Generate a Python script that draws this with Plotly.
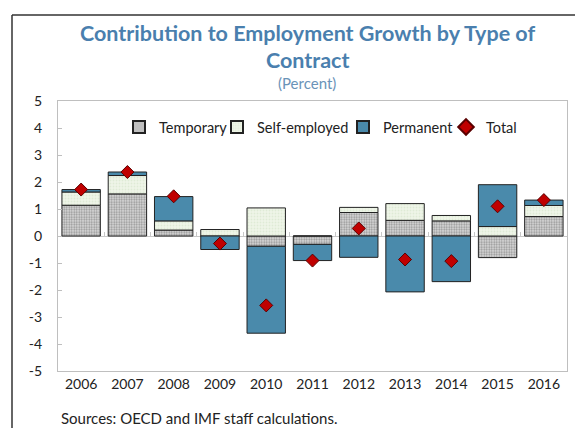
import plotly.graph_objects as go

years = ["2006", "2007", "2008", "2009", "2010", "2011", "2012", "2013", "2014", "2015", "2016"]
temporary = [1.14, 1.56, 0.22, 0.0, -0.38, -0.31, 0.87, 0.58, 0.56, -0.80, 0.72]
self_employed = [0.49, 0.68, 0.34, 0.24, 1.04, 0.0, 0.19, 0.62, 0.20, 0.35, 0.41]
permanent = [0.09, 0.13, 0.90, -0.50, -3.22, -0.60, -0.79, -2.07, -1.69, 1.55, 0.20]
total = [1.72, 2.37, 1.47, -0.28, -2.57, -0.91, 0.28, -0.87, -0.93, 1.10, 1.33]
yticks = [5, 4, 3, 2, 1, 0, -1, -2, -3, -4, -5]

W, H = 575, 428
ML, MR, MT, MB = 58, 8, 101, 57
PW, PH = W - ML - MR, H - MT - MB

def px(x):
    return (x - ML) / PW

def py(y):
    return (H - MB - y) / PH

FONT = "Lato"
fig = go.Figure()
fig.add_trace(go.Bar(
    x=years, y=temporary, name="Temporary", legendwidth=53,
    marker=dict(color="#c8c8c8", line=dict(color="#222222", width=1),
                pattern=dict(shape=".", fgcolor="#4a4a4a", bgcolor="#dcdcdc", size=2.5, solidity=0.45)),
))
fig.add_trace(go.Bar(
    x=years, y=self_employed, name="Self-employed", legendwidth=81,
    marker=dict(color="#e4efdc", line=dict(color="#222222", width=1),
                pattern=dict(shape=".", fgcolor="#cfe0c4", bgcolor="#eef5e8", size=3, solidity=0.3)),
))
fig.add_trace(go.Bar(
    x=years, y=permanent, name="Permanent", legendwidth=58,
    marker=dict(color="#4a8aab", line=dict(color="#222222", width=1)),
))
fig.add_trace(go.Scatter(
    x=years, y=total, name="Total", mode="markers", legendwidth=40,
    marker=dict(symbol="diamond", color="#c00000", size=10, line=dict(color="#5a0000", width=1)),
))
# invisible trace to carry the zero-line axis with boundary ticks
fig.add_trace(go.Scatter(x=[-0.5, 10.5], y=[0, 0], xaxis="x2", mode="lines",
                         line=dict(width=0), showlegend=False, hoverinfo="skip"))

fig.update_layout(
    width=W, height=H,
    margin=dict(l=ML, r=MR, t=MT, b=MB, autoexpand=False),
    barmode="relative", bargap=0.17,
    paper_bgcolor="white", plot_bgcolor="white",
    font=dict(family=FONT, size=14, color="#222222"),
    showlegend=True,
    legend=dict(orientation="h", x=px(119), y=py(127), xanchor="left", yanchor="middle",
                font=dict(size=14.5, family=FONT), bgcolor="rgba(0,0,0,0)",
                itemwidth=30, tracegroupgap=0, itemsizing="constant"),
    xaxis=dict(type="category", range=[-0.5, 10.5], showline=True, mirror=True,
               linecolor="#bfbfbf", linewidth=1, ticks="", showgrid=False,
               tickfont=dict(size=14, family=FONT), zeroline=False),
    xaxis2=dict(overlaying="x", anchor="free", position=0.5, range=[-0.5, 10.5],
                showline=True, linecolor="#c8c8c8", linewidth=1, layer="below traces",
                tickmode="array", tickvals=[i - 0.5 for i in range(12)], showticklabels=False,
                ticks="inside", ticklen=4, tickcolor="#c8c8c8", showgrid=False, zeroline=False),
    yaxis=dict(range=[-5, 5], tickmode="array", tickvals=yticks, ticktext=[str(v) for v in yticks],
               showline=True, mirror=True, linecolor="#bfbfbf", linewidth=1,
               ticks="inside", ticklen=4, tickcolor="#bfbfbf", showgrid=False, zeroline=False,
               ticklabelstandoff=12, tickfont=dict(size=14, family=FONT)),
)

fig.add_annotation(text="<b>Contribution to Employment Growth by Type of</b>", xref="paper", yref="paper",
                   x=px(307), y=py(33), xanchor="center", yanchor="middle", showarrow=False,
                   font=dict(size=21.5, color="#4a7fae", family=FONT))
fig.add_annotation(text="<b>Contract</b>", xref="paper", yref="paper",
                   x=px(307), y=py(60), xanchor="center", yanchor="middle", showarrow=False,
                   font=dict(size=21.5, color="#4a7fae", family=FONT))
fig.add_annotation(text="(Percent)", xref="paper", yref="paper",
                   x=px(307), y=py(83), xanchor="center", yanchor="middle", showarrow=False,
                   font=dict(size=15, color="#6a93b8", family=FONT))
fig.add_annotation(text="Sources: OECD and IMF staff calculations.", xref="paper", yref="paper",
                   x=px(59), y=py(418), xanchor="left", yanchor="middle", showarrow=False,
                   font=dict(size=15, color="#222222", family=FONT))

# outer frame (top and left edges)
fig.add_shape(type="line", xref="paper", yref="paper", x0=px(12), x1=px(576), y0=py(15), y1=py(15),
              line=dict(color="#333333", width=1.5))
fig.add_shape(type="line", xref="paper", yref="paper", x0=px(12), x1=px(12), y0=py(15), y1=py(430),
              line=dict(color="#333333", width=1.5))

fig.write_html("out.html", config={"displayModeBar": False})

# remove the browser's default page margin so the figure sits at the window's top-left
with open("out.html", "r", encoding="utf-8") as f:
    html = f.read()
html = html.replace("<head>", "<head><style>html,body{margin:0;padding:0;overflow:hidden;}</style>", 1)
with open("out.html", "w", encoding="utf-8") as f:
    f.write(html)
